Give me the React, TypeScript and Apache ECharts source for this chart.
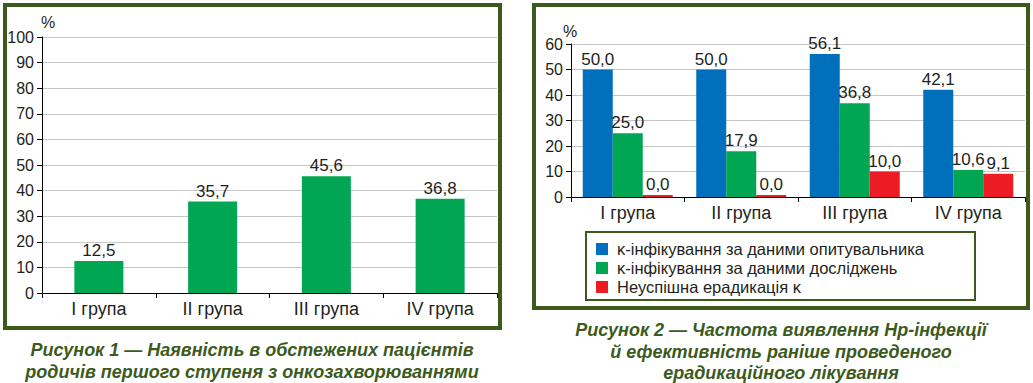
import React, { useEffect, useRef } from "react";
import * as echarts from "echarts";

const categories = ["I група", "II група", "III група", "IV група"];
const fig1Values = [12.5, 35.7, 45.6, 36.8];
const fig1Ticks = { min: 0, max: 100, interval: 10 };

const fig2SeriesNames = [
  "κ-інфікування за даними опитувальника",
  "κ-інфікування за даними досліджень",
  "Неуспішна ерадикація κ",
];
const fig2Questionnaire = [50.0, 50.0, 56.1, 42.1];
const fig2Research = [25.0, 17.9, 36.8, 10.6];
const fig2Failed = [0.0, 0.0, 10.0, 9.1];
const fig2Ticks = { min: 0, max: 60, interval: 10 };

const caption1 = [
  "Рисунок 1 — Наявність в обстежених пацієнтів",
  "родичів першого ступеня з онкозахворюваннями",
];
const caption2 = [
  "Рисунок 2 — Частота виявлення Hp-інфекції",
  "й ефективність раніше проведеного",
  "ерадикаційного лікування",
];

const FONT = "'Liberation Sans', Arial, sans-serif";
const TEXT = "#231f20";
const FRAME = "#3b5a1c";
const fmt = (v: number) => v.toFixed(1).replace(".", ",");

export default function App() {
  const ref = useRef<HTMLDivElement>(null);
  useEffect(() => {
    document.body.style.margin = "0";
    const chart = echarts.init(ref.current!, undefined, { renderer: "svg" });
    const axisCommon = {
      axisLine: { show: true, lineStyle: { color: "#000", width: 1 } },
      axisTick: { show: true, length: 5, lineStyle: { color: "#000" } },
    };
    const labelStyle = {
      show: true,
      position: "top" as const,
      distance: 2,
      fontSize: 17,
      color: TEXT,
      fontFamily: FONT,
      formatter: (p: any) => fmt(p.value),
    };
    const captionTexts: any[] = [];
    caption1.forEach((t, i) =>
      captionTexts.push({
        type: "text",
        x: 252,
        y: 350 + i * 22,
        style: {
          text: t,
          fill: FRAME,
          font: `italic bold 18px ${FONT}`,
          textAlign: "center",
          textVerticalAlign: "middle",
        },
      })
    );
    caption2.forEach((t, i) =>
      captionTexts.push({
        type: "text",
        x: 781,
        y: 330 + i * 21.5,
        style: {
          text: t,
          fill: FRAME,
          font: `italic bold 18px ${FONT}`,
          textAlign: "center",
          textVerticalAlign: "middle",
        },
      })
    );
    const catLabel = { fontSize: 18, color: TEXT, margin: 7, fontFamily: FONT };
    const valLabel = { fontSize: 16, color: TEXT, margin: 8, fontFamily: FONT };
    chart.setOption({
      animation: false,
      backgroundColor: "#fff",
      textStyle: { fontFamily: FONT },
      grid: [
        { left: 42, top: 37, width: 455, height: 256 },
        { left: 571, top: 44, width: 454, height: 153 },
      ],
      xAxis: [
        { gridIndex: 0, type: "category", data: categories, ...axisCommon, axisLabel: catLabel },
        { gridIndex: 1, type: "category", data: categories, ...axisCommon, axisLabel: catLabel },
      ],
      yAxis: [
        {
          gridIndex: 0,
          type: "value",
          ...fig1Ticks,
          ...axisCommon,
          axisLabel: valLabel,
          splitLine: { show: true, lineStyle: { color: "#c6c6c6" } },
        },
        {
          gridIndex: 1,
          type: "value",
          ...fig2Ticks,
          ...axisCommon,
          axisLabel: valLabel,
          splitLine: { show: true, lineStyle: { color: "#c6c6c6" } },
        },
      ],
      legend: {
        data: fig2SeriesNames,
        orient: "vertical",
        left: 596,
        top: 239.5,
        itemWidth: 12,
        itemHeight: 12,
        itemGap: 0,
        padding: 0,
        icon: "rect",
        textStyle: {
          fontSize: 16.5,
          lineHeight: 19,
          color: TEXT,
          fontFamily: FONT,
          padding: [0, 0, 0, 4],
        },
      },
      series: [
        {
          type: "bar",
          name: "fig1",
          xAxisIndex: 0,
          yAxisIndex: 0,
          data: fig1Values,
          barWidth: 49,
          itemStyle: { color: "#00a651" },
          label: labelStyle,
        },
        {
          type: "bar",
          name: fig2SeriesNames[0],
          xAxisIndex: 1,
          yAxisIndex: 1,
          data: fig2Questionnaire,
          barWidth: 30,
          barGap: "0%",
          itemStyle: { color: "#0070bd" },
          label: labelStyle,
        },
        {
          type: "bar",
          name: fig2SeriesNames[1],
          xAxisIndex: 1,
          yAxisIndex: 1,
          data: fig2Research,
          barWidth: 30,
          barGap: "0%",
          itemStyle: { color: "#00a651" },
          label: labelStyle,
        },
        {
          type: "bar",
          name: fig2SeriesNames[2],
          xAxisIndex: 1,
          yAxisIndex: 1,
          data: fig2Failed,
          barWidth: 30,
          barGap: "0%",
          barMinHeight: 2,
          itemStyle: { color: "#ed1c24" },
          label: labelStyle,
        },
      ],
      graphic: [
        {
          type: "rect",
          shape: { x: 5, y: 5, width: 495, height: 323 },
          style: { fill: "none", stroke: FRAME, lineWidth: 4 },
          silent: true,
        },
        {
          type: "rect",
          shape: { x: 534, y: 5, width: 494, height: 303 },
          style: { fill: "none", stroke: FRAME, lineWidth: 4 },
          silent: true,
        },
        {
          type: "rect",
          shape: { x: 586, y: 232, width: 389, height: 68 },
          style: { fill: "none", stroke: FRAME, lineWidth: 2 },
          silent: true,
        },
        {
          type: "text",
          x: 48,
          y: 22,
          style: { text: "%", fill: TEXT, font: `16px ${FONT}`, textAlign: "center", textVerticalAlign: "middle" },
        },
        {
          type: "text",
          x: 570,
          y: 31,
          style: { text: "%", fill: TEXT, font: `16px ${FONT}`, textAlign: "center", textVerticalAlign: "middle" },
        },
        ...captionTexts,
      ],
    });
    return () => chart.dispose();
  }, []);
  return <div ref={ref} style={{ width: 1033, height: 383 }} />;
}
